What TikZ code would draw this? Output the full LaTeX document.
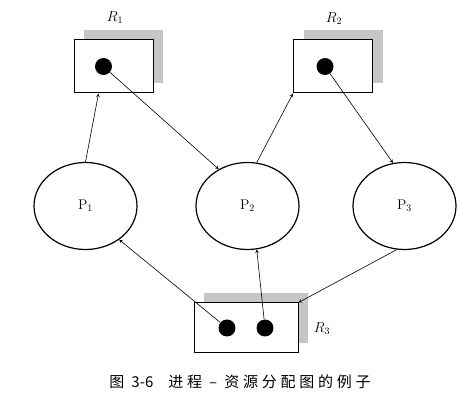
\documentclass[tikz,border=0pt]{standalone}
\usepackage{fontspec}
\newfontfamily\cjk[LetterSpace=25]{Noto Sans CJK SC}
\newfontfamily\cjknum{Noto Sans CJK SC}
\usepackage{tikz}
\usetikzlibrary{shapes,arrows,positioning,shadows}

\begin{document}
\begin{tikzpicture}[x=1pt, y=-1pt, node distance=162pt, auto]
% Define styles
\tikzstyle{process} = [ellipse, minimum width=103pt, minimum height=87pt, text centered, draw=black, line width=1.2pt, font=\fontsize{14}{16}\selectfont]
\tikzstyle{resource} = [rectangle, minimum width=79pt, minimum height=53pt, draw=black, fill=white, line width=1pt, general shadow={fill=gray!45, shadow xshift=10pt, shadow yshift=10pt}]
\tikzstyle{unit} = [circle, fill=black, minimum size=17pt, inner sep=0pt]
\tikzstyle{rlabel} = [font=\fontsize{14}{16}\selectfont]
\tikzstyle{arrow} = [line width=0.6pt,->,>=stealth]

\useasboundingbox (0,0) rectangle (461,406);

% Place nodes
\node (P1) [process] at (85.5,206) {P$_1$};
\node (P2) [process, right of=P1] {P$_2$};
\node (P3) [process, right of=P2, xshift=-5pt] {P$_3$};
\node (R1) [resource] at (113.5,66.5) {};
\node (R2) [resource] at (333,66.5) {};
\node (R3) [resource, minimum width=104pt, minimum height=50pt] at (246,328) {};
\node (r1a) [unit] at ([xshift=-10pt]R1.center) {};
\node (r2a) [unit] at ([xshift=-8pt]R2.center) {};
\node (r3a) [unit] at ([xshift=-19pt]R3.center) {};
\node (r3b) [unit] at ([xshift=19pt]R3.center) {};
\node (lR1) [rlabel] at (115,18) {$R_1$};
\node (lR2) [rlabel] at (334,19) {$R_2$};
\node (lR3) [rlabel] at (322,329) {$R_3$};
\node (cap) at (240,382) {\fontsize{15}{17}\selectfont\cjk 图 {\cjknum 3-6}\quad 进程 – 资源分配图的例子};

% Draw arrows
\draw [arrow] (P1.north) -- (R1.241);
\draw [arrow] (r1a) -- (P2.128);
\draw [arrow] (P2.78) -- (R2.south west);
\draw [arrow] (r2a) -- (P3.105);
\draw [arrow] (r3a) -- (P1.315);
\draw [arrow] (r3b) -- (P2.282);
\draw [arrow] (P3.260) -- (R3.north east);
\end{tikzpicture}
\end{document}
